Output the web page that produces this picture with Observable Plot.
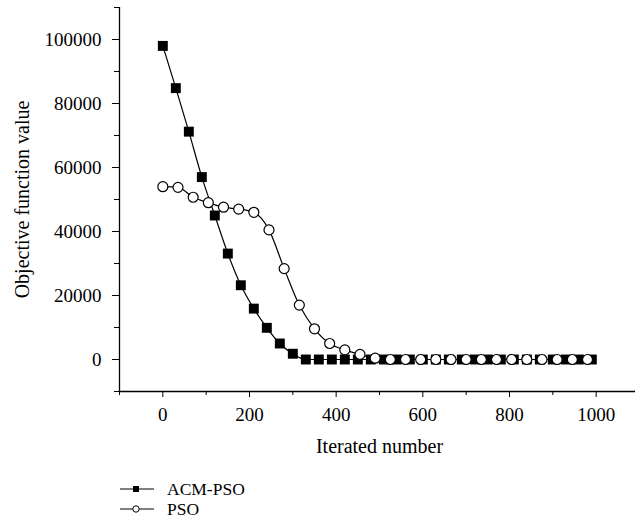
<!DOCTYPE html>
<html>
<head>
<meta charset="utf-8">
<script src="https://cdn.jsdelivr.net/npm/d3@7"></script>
<script src="https://cdn.jsdelivr.net/npm/@observablehq/plot@0.6"></script>
<style>
  body { margin: 0; background: #fff; font-family: "Liberation Serif", "DejaVu Serif", serif; }
  #wrap { position: relative; width: 635px; height: 527px; }
  .legend { position: absolute; left: 118px; top: 479px; font-size: 17.5px; color: #000; }
  .row { display: flex; align-items: center; height: 20px; }
  .row span { line-height: 17px; }
  .row svg { margin-right: 12px; }
</style>
</head>
<body>
<div id="wrap">
  <div id="chart"></div>
  <div class="legend" id="legend"></div>
</div>
<script>
const seriesNames = ["ACM-PSO", "PSO"];
const acmX = [0,30,60,90,120,150,180,210,240,270,300,330,360,390,420,450,480,510,540,570,600,630,660,690,720,750,780,810,840,870,900,930,960,990];
const acmY = [98000,84800,71200,57000,45000,33100,23200,15900,9900,5000,1800,0,0,0,0,0,0,0,0,0,0,0,0,0,0,0,0,0,0,0,0,0,0,0];
const psoX = [0,35,70,105,140,175,210,245,280,315,350,385,420,455,490,525,560,595,630,665,700,735,770,805,840,875,910,945,980];
const psoY = [54000,53800,50700,49000,47600,47000,46000,40500,28400,17000,9600,5000,3000,1600,400,0,0,0,0,0,0,0,0,0,0,0,0,0,0];
const xMajor = [0,200,400,600,800,1000];
const xMinor = [-100,100,300,500,700,900,1100];
const yMajor = [0,20000,40000,60000,80000,100000];
const yMinor = [-10000,10000,30000,50000,70000,90000,110000];
const xLabel = "Iterated number";
const yLabel = "Objective function value";

const acm = acmX.map((x, i) => ({x, y: acmY[i]}));
const pso = psoX.map((x, i) => ({x, y: psoY[i]}));

const W = 635, H = 460;
const fs = 19, ft = 20;
const plot = Plot.plot({
  width: W, height: H,
  marginLeft: 119, marginRight: 0, marginTop: 7, marginBottom: 69,
  style: {fontFamily: "Liberation Serif, serif", fontSize: fs + "px", color: "#000", background: "#fff"},
  x: {domain: [-100, 1100], range: [119, 639]},
  y: {domain: [-10000, 110000], range: [391, 7]},
  marks: [
    Plot.ruleX([-100], {y1: -10000, y2: 110000, stroke: "#000", strokeWidth: 1.3}),
    Plot.ruleY([-10000], {x1: -100, x2: 1100, stroke: "#000", strokeWidth: 1.3}),
    Plot.axisY(yMajor, {tickSize: 7, tickPadding: 11, tickFormat: d => String(d), label: null, fontSize: fs, stroke: "#000"}),
    Plot.axisY(yMinor, {tickSize: 5, tickFormat: () => "", label: null, stroke: "#000"}),
    Plot.axisX(xMajor, {tickSize: 6, tickPadding: 10, tickFormat: d => String(d), label: null, fontSize: fs, stroke: "#000"}),
    Plot.axisX(xMinor, {tickSize: 4, tickFormat: () => "", label: null, stroke: "#000"}),
    Plot.text([yLabel], {frameAnchor: "left", textAnchor: "middle", dx: -97, rotate: -90, fontSize: ft, fill: "#000"}),
    Plot.text([xLabel], {x: 500, y: -10000, dy: 55, fontSize: ft, fill: "#000"}),
    Plot.line(pso, {x: "x", y: "y", curve: "monotone-x", stroke: "#000", strokeWidth: 1.2}),
    Plot.line(acm, {x: "x", y: "y", curve: "monotone-x", stroke: "#000", strokeWidth: 1.2}),
    Plot.dot(acm, {x: "x", y: "y", symbol: "square", r: 5.6, fill: "#000", stroke: "none"}),
    Plot.dot(pso, {x: "x", y: "y", symbol: "circle", r: 5, fill: "#fff", stroke: "#000", strokeWidth: 1.2})
  ]
});
document.getElementById("chart").appendChild(plot);

const legend = document.getElementById("legend");
seriesNames.forEach((name, i) => {
  const row = document.createElement("div");
  row.className = "row";
  const marker = i === 0
    ? '<rect x="15" y="7" width="6" height="6" fill="#000"/>'
    : '<circle cx="18" cy="10" r="3.2" fill="#fff" stroke="#000" stroke-width="1"/>';
  row.innerHTML = '<svg width="37" height="20"><line x1="2" x2="36" y1="10" y2="10" stroke="#000" stroke-width="1.2"/>' + marker + '</svg><span>' + name + '</span>';
  legend.appendChild(row);
});
</script>
</body>
</html>
